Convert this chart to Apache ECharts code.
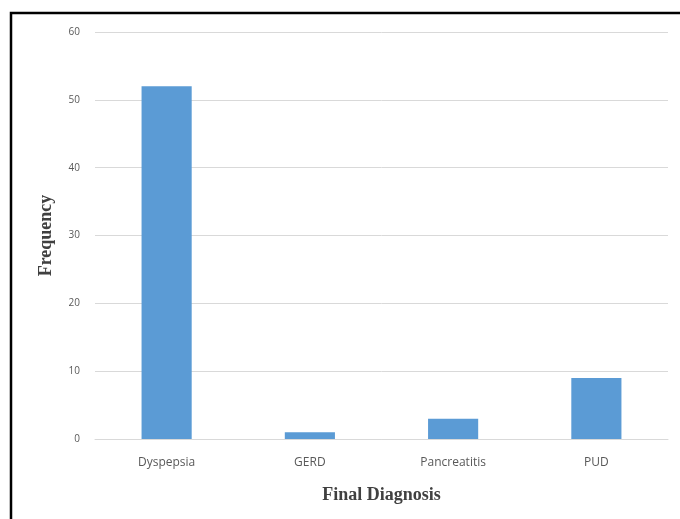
<!DOCTYPE html>
<html>
<head>
<meta charset="utf-8">
<script src="https://cdn.jsdelivr.net/npm/echarts@6/dist/echarts.min.js"></script>
<style>
  html, body { margin: 0; padding: 0; background: #fff; }
  #chart { width: 680px; height: 519px; }
</style>
</head>
<body>
<div id="chart"></div>
<script>
const categories = ['Dyspepsia', 'GERD', 'Pancreatitis', 'PUD'];
const frequency = [52, 1, 3, 9];
const yTicks = { min: 0, max: 60, interval: 10 };

const chart = echarts.init(document.getElementById('chart'), null, { renderer: 'canvas' });

chart.setOption({
  backgroundColor: '#ffffff',
  animation: false,
  graphic: [
    {
      // outer frame, open at the right and bottom edges
      type: 'rect',
      shape: { x: 11, y: 13, width: 700, height: 540 },
      style: { fill: 'none', stroke: '#000', lineWidth: 2.5 },
      silent: true
    }
  ],
  grid: { left: 95, right: 12, top: 32, bottom: 80 },
  xAxis: {
    type: 'category',
    data: categories,
    name: 'Final Diagnosis',
    nameLocation: 'middle',
    nameGap: 47,
    nameTextStyle: {
      fontFamily: 'Liberation Serif',
      fontWeight: 'bold',
      fontSize: 18,
      color: '#404040'
    },
    axisLine: { show: true, lineStyle: { color: '#d9d9d9', width: 1 } },
    axisTick: { show: false },
    axisLabel: {
      margin: 18,
      fontFamily: 'Open Sans',
      fontSize: 12,
      color: '#595959'
    }
  },
  yAxis: {
    type: 'value',
    min: yTicks.min,
    max: yTicks.max,
    interval: yTicks.interval,
    name: 'Frequency',
    nameLocation: 'middle',
    nameRotate: 90,
    nameGap: 40,
    nameTextStyle: {
      fontFamily: 'Liberation Serif',
      fontWeight: 'bold',
      fontSize: 18,
      color: '#404040'
    },
    axisLine: { show: false },
    axisTick: { show: false },
    splitLine: { lineStyle: { color: '#d9d9d9', width: 1 } },
    axisLabel: {
      margin: 15,
      fontFamily: 'Open Sans',
      fontSize: 10,
      color: '#595959'
    }
  },
  series: [
    {
      type: 'bar',
      data: frequency,
      barWidth: '35%',
      itemStyle: { color: '#5b9bd5' }
    }
  ]
});
</script>
</body>
</html>
